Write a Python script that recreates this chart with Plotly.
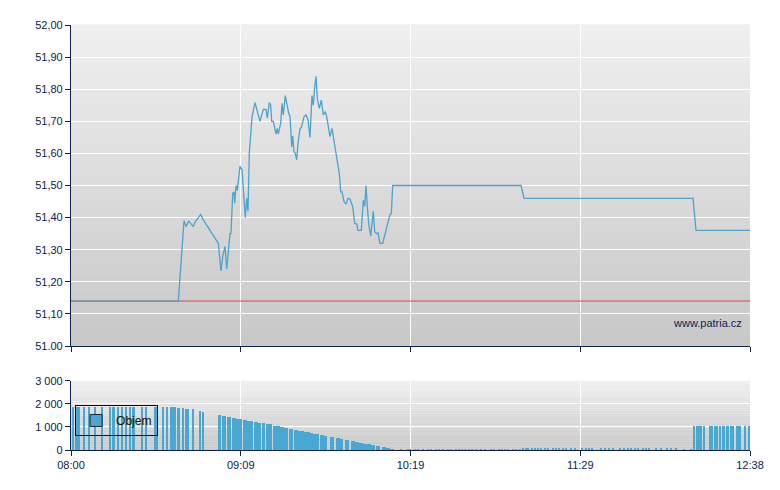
import plotly.graph_objects as go

DATE = "2024-01-01"

# ---------------- data ----------------
session_start = "08:00:00"
session_end = "12:38:00"
prev_close = 51.14

price_times = [
    "08:00:00", "08:43:56", "08:46:16", "08:47:05", "08:48:11", "08:50:04", "08:50:53",
    "08:53:06", "08:54:10", "09:00:19", "09:01:25", "09:02:07", "09:03:03", "09:03:45",
    "09:05:06", "09:05:30", "09:06:13", "09:06:44", "09:07:01", "09:07:34", "09:08:05",
    "09:09:11", "09:10:01", "09:11:22", "09:11:56", "09:12:28", "09:13:00", "09:14:07",
    "09:15:20", "09:16:02", "09:17:23", "09:18:44", "09:19:50", "09:20:22", "09:21:11",
    "09:21:46", "09:22:10", "09:22:50", "09:23:56", "09:24:28", "09:24:53", "09:25:52",
    "09:26:23", "09:26:56", "09:27:44", "09:29:08", "09:29:40", "09:30:22", "09:30:46",
    "09:31:18", "09:31:50", "09:32:25", "09:32:56", "09:33:46", "09:34:17", "09:35:24",
    "09:36:13", "09:37:02", "09:37:51", "09:38:40", "09:39:13", "09:39:47", "09:40:19",
    "09:40:51", "09:41:40", "09:42:29", "09:43:18", "09:44:07", "09:44:41", "09:46:02",
    "09:46:52", "09:48:05", "09:49:51", "09:50:25", "09:50:58", "09:51:47", "09:52:35",
    "09:53:25", "09:54:14", "09:55:20", "09:56:10", "09:56:59", "09:57:31", "09:58:52",
    "09:59:41", "10:00:15", "10:00:47", "10:01:19", "10:01:53", "10:02:43", "10:03:46",
    "10:04:21", "10:05:10", "10:05:42", "10:06:31", "10:07:37", "10:08:58", "10:10:37",
    "10:11:08", "10:11:43", "11:04:15", "11:05:29", "12:14:40", "12:15:54", "12:38:00",
]
price_values = [
    51.14, 51.14, 51.39, 51.372, 51.389, 51.372, 51.387,
    51.41, 51.393, 51.32, 51.234, 51.28, 51.31, 51.24,
    51.35, 51.35, 51.476, 51.48, 51.445, 51.50, 51.485,
    51.56, 51.55, 51.40, 51.46, 51.42, 51.60, 51.714,
    51.758, 51.735, 51.70, 51.737, 51.737, 51.71, 51.758,
    51.75, 51.70, 51.70, 51.66, 51.678, 51.66, 51.694,
    51.756, 51.72, 51.78, 51.725, 51.715, 51.62, 51.655,
    51.605, 51.60, 51.58, 51.63, 51.678, 51.68, 51.714,
    51.72, 51.705, 51.65, 51.78, 51.75, 51.808, 51.84,
    51.77, 51.74, 51.766, 51.72, 51.73, 51.715, 51.652,
    51.678, 51.62, 51.538, 51.48, 51.48, 51.45, 51.442,
    51.46, 51.458, 51.434, 51.382, 51.38, 51.36, 51.36,
    51.455, 51.435, 51.50, 51.435, 51.38, 51.343, 51.42,
    51.356, 51.35, 51.352, 51.32, 51.32, 51.36, 51.41,
    51.412, 51.50, 51.50, 51.46, 51.46, 51.36, 51.36,
]

# volume – individual trades (thin bars)
vol_times_thin = [
    "08:00:56", "08:02:03", "08:03:11", "08:05:27", "08:07:30", "08:09:55", "08:12:49",
    "08:16:05", "08:17:12", "08:17:44", "08:19:22", "08:21:00", "08:22:38", "08:24:10",
    "08:25:23", "08:25:55", "08:29:12", "08:30:50", "08:34:31", "08:35:13", "08:37:52",
    "08:39:26", "08:40:57", "08:41:38", "08:42:35", "08:44:06", "08:45:51", "08:47:05",
    "08:48:02", "08:50:04", "08:52:49", "08:54:10",
    "10:15:19", "10:17:59", "10:19:00", "10:20:51", "10:22:04", "10:24:20", "10:26:10",
    "10:27:36", "10:29:26", "10:30:40", "10:32:31", "10:34:34", "10:35:47", "10:37:38",
    "10:38:52", "10:40:05", "10:41:31", "10:42:57", "10:44:11", "10:46:02", "10:47:52",
    "10:49:31", "10:51:58", "10:53:24", "10:55:26", "10:56:40", "10:57:54", "10:59:08",
    "11:01:10", "11:02:24", "11:03:50", "11:05:11", "11:06:17", "11:07:07", "11:08:45",
    "11:09:59", "11:11:13", "11:12:26", "11:14:17", "11:15:18", "11:17:21", "11:18:35",
    "11:19:48", "11:21:26", "11:22:52", "11:24:55", "11:26:21", "11:29:26", "11:30:52",
    "11:32:17", "11:33:31", "11:37:00", "11:38:38", "11:40:17", "11:42:07", "11:44:47",
    "11:46:37", "11:48:03", "11:49:29", "11:50:55", "11:52:21", "11:54:12", "11:55:38",
    "11:56:39", "11:59:43", "12:01:46", "12:04:14", "12:05:40", "12:07:55", "12:10:59",
    "12:14:03",
    "12:15:17", "12:16:19", "12:17:27", "12:18:04", "12:19:18", "12:21:38", "12:22:39",
    "12:24:00", "12:24:35", "12:25:56", "12:27:14", "12:28:53", "12:30:14", "12:30:53",
    "12:32:49", "12:33:25", "12:34:00", "12:36:10", "12:37:41",
]
vol_values_thin = [
    1860, 1860, 1870, 1870, 1860, 1870, 1860,
    1870, 1860, 1860, 1860, 1860, 1860, 1860,
    1860, 1860, 1870, 1860, 1860, 1860, 1870,
    1860, 1860, 1860, 1860, 1830, 1830, 1800,
    1790, 1780, 1710, 1650,
    40, 40, 40, 40, 40, 40, 40,
    40, 40, 40, 40, 40, 40, 40,
    40, 40, 40, 40, 40, 40, 40,
    40, 40, 40, 40, 40, 40, 40,
    40, 40, 40, 90, 90, 90, 90,
    90, 90, 90, 90, 90, 70, 70,
    70, 70, 70, 70, 70, 70, 70,
    70, 70, 70, 70, 70, 70, 70,
    70, 70, 70, 70, 70, 70, 70,
    70, 70, 70, 70, 70, 70, 50,
    50,
    1050, 1050, 1050, 1050, 1050, 1050, 1050,
    1050, 1050, 1050, 1050, 1050, 1050, 1050,
    1050, 1050, 1050, 1050, 1050,
]

# volume – dense block of trades
vol_times_block = [
    "09:00:48", "09:02:31", "09:04:37", "09:06:44", "09:08:10", "09:09:19", "09:11:15",
    "09:12:48", "09:13:54", "09:15:50", "09:17:11", "09:18:49", "09:20:27", "09:21:36",
    "09:23:27", "09:24:53", "09:26:16", "09:28:02", "09:30:00", "09:32:00", "09:33:46",
    "09:34:47", "09:35:48", "09:36:55", "09:38:28", "09:39:49", "09:40:43", "09:42:41",
    "09:44:00", "09:46:52", "09:49:19", "09:50:45", "09:53:00", "09:55:28", "09:57:01",
    "09:58:39", "10:00:15", "10:01:53", "10:03:44", "10:05:49", "10:08:04", "10:09:40",
    "10:11:26",
]
vol_values_block = [
    1530, 1480, 1435, 1391, 1370, 1348, 1304,
    1270, 1261, 1217, 1190, 1159, 1130, 1130,
    1058, 1030, 1000, 957, 913, 870, 826,
    826, 800, 783, 739, 715, 696, 652,
    609, 565, 522, 478, 435, 391, 348,
    320, 275, 245, 217, 174, 130, 87,
    43,
]

x_tick_times = ["08:00:00", "09:09:30", "10:19:00", "11:28:30", "12:38:00"]
x_tick_labels = ["08:00", "09:09", "10:19", "11:29", "12:38"]
price_ticks = [51.0, 51.1, 51.2, 51.3, 51.4, 51.5, 51.6, 51.7, 51.8, 51.9, 52.0]
price_tick_labels = ["51.00", "51,10", "51,20", "51,30", "51,40", "51,50",
                     "51,60", "51,70", "51,80", "51,90", "52,00"]
vol_ticks = [0, 1000, 2000, 3000]
vol_tick_labels = ["0", "1 000", "2 000", "3 000"]
series_name = "Objem"
watermark = "www.patria.cz"

# ---------------- styling ----------------
NAVY = "#0d2152"
LINE_BLUE = "#4ca3cc"
BAR_BLUE = "#4aa7d2"
RED = "#e04848"
FONT = "Liberation Sans, Arial, sans-serif"


def ts(t):
    return f"{DATE} {t}"


fig = go.Figure()

# previous close reference line (drawn first so the price line sits on top)
fig.add_trace(go.Scatter(
    x=[ts(session_start), ts(session_end)], y=[prev_close, prev_close],
    mode="lines", line=dict(color=RED, width=1), showlegend=False,
    hoverinfo="skip", xaxis="x", yaxis="y",
))

fig.add_trace(go.Scatter(
    x=[ts(t) for t in price_times], y=price_values, mode="lines",
    line=dict(color=LINE_BLUE, width=1.3), showlegend=False, hoverinfo="skip",
    xaxis="x", yaxis="y",
))

fig.add_trace(go.Bar(
    x=[ts(t) for t in vol_times_thin], y=vol_values_thin, width=45000,
    marker=dict(color=BAR_BLUE, line=dict(width=0)), showlegend=False,
    xaxis="x2", yaxis="y2",
))
fig.add_trace(go.Bar(
    x=[ts(t) for t in vol_times_block], y=vol_values_block, width=92000,
    marker=dict(color=BAR_BLUE, line=dict(width=0)), showlegend=False,
    xaxis="x2", yaxis="y2",
))
# legend entry
fig.add_trace(go.Bar(
    x=[None], y=[None], name=series_name,
    marker=dict(color=BAR_BLUE, line=dict(color="#222222", width=1)),
    showlegend=True, xaxis="x2", yaxis="y2",
))

# background gradients
def lerp(c1, c2, f):
    return "#%02x%02x%02x" % tuple(round(a + (b - a) * f) for a, b in zip(c1, c2))

TOP_C = (0xef, 0xef, 0xef)
BOT_C = (0xc8, 0xc8, 0xc8)
N = 40
for xr, yr in (("x domain", "y domain"), ("x2 domain", "y2 domain")):
    for i in range(N):
        fig.add_shape(type="rect", xref=xr, yref=yr, x0=0, x1=1,
                      y0=i / N, y1=(i + 1) / N + 0.002,
                      fillcolor=lerp(BOT_C, TOP_C, (i + 0.5) / N),
                      line=dict(width=0), layer="below")

x_range = [ts(session_start), ts(session_end)]
tickvals_x = [ts(t) for t in x_tick_times]

axis_common = dict(
    showline=True, linecolor=NAVY, linewidth=1.2, ticks="outside", ticklen=5,
    tickcolor=NAVY, tickwidth=1, gridcolor="white", gridwidth=1, zeroline=False,
    tickfont=dict(family=FONT, size=11, color=NAVY),
)

# page has an 8px body margin: 772x482 figure fills the 780x490 window
fig.update_layout(
    width=772, height=482,
    margin=dict(l=63, r=30, t=17, b=40),
    paper_bgcolor="white", plot_bgcolor="rgba(0,0,0,0)",
    barmode="overlay", bargap=0,
    font=dict(family=FONT, size=11, color=NAVY),
    xaxis=dict(domain=[0, 1], anchor="y", type="date", range=x_range,
               tickvals=tickvals_x, ticktext=x_tick_labels,
               showticklabels=False, **axis_common),
    yaxis=dict(domain=[0.2447, 1], anchor="x", range=[51.0, 52.0],
               tickvals=price_ticks, ticktext=price_tick_labels, **axis_common),
    xaxis2=dict(domain=[0, 1], anchor="y2", type="date", range=x_range,
                matches="x", tickvals=tickvals_x, ticktext=x_tick_labels,
                showticklabels=True, **axis_common),
    yaxis2=dict(domain=[0, 0.1624], anchor="x2", range=[0, 3000],
                tickvals=vol_ticks, ticktext=vol_tick_labels, **axis_common),
    legend=dict(x=0.006, y=0.106, xanchor="left", yanchor="top",
                bgcolor="rgba(0,0,0,0)", bordercolor="#111111", borderwidth=1,
                font=dict(family=FONT, size=12, color="#111111"),
                itemwidth=30, tracegroupgap=0),
    annotations=[dict(text=watermark, xref="paper", yref="paper",
                      x=1, y=0.2988, xanchor="right", yanchor="middle",
                      xshift=-6, showarrow=False,
                      font=dict(family=FONT, size=11, color=NAVY))],
    hovermode=False,
)

fig.write_html("out.html")
